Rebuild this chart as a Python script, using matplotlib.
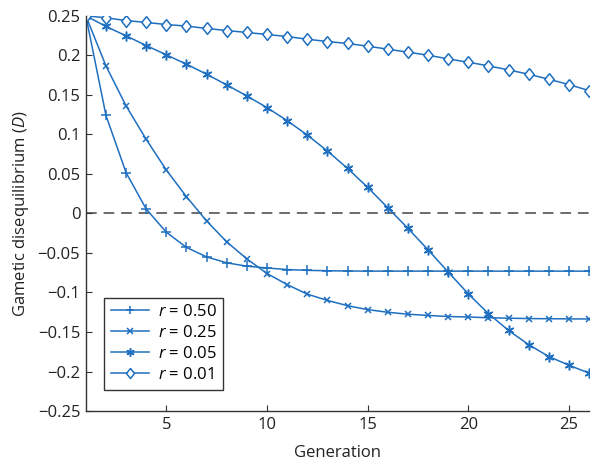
import matplotlib
matplotlib.use("Agg")
import matplotlib.pyplot as plt
import numpy as np

plt.rcParams['font.family'] = ['Open Sans', 'DejaVu Sans']
plt.rcParams['mathtext.fontset'] = 'custom'
plt.rcParams['mathtext.it'] = 'Open Sans:italic'
plt.rcParams['mathtext.rm'] = 'Open Sans'

# Данные
generations = list(range(1, 27))
d_r050 = [0.25, 0.124, 0.0515, 0.0055, -0.0238, -0.043, -0.055, -0.0625, -0.0667, -0.069,
          -0.071, -0.072, -0.0725, -0.0728, -0.073, -0.073, -0.073, -0.073, -0.073, -0.073,
          -0.073, -0.073, -0.073, -0.073, -0.073, -0.073]
d_r025 = [0.25, 0.1866, 0.136, 0.0937, 0.0549, 0.0211, -0.0095, -0.036, -0.0575, -0.076,
          -0.09, -0.1021, -0.11, -0.1167, -0.1217, -0.125, -0.1275, -0.129, -0.1304, -0.131,
          -0.132, -0.1325, -0.133, -0.1332, -0.1334, -0.1335]
d_r005 = [0.25, 0.2365, 0.2247, 0.2124, 0.2006, 0.1888, 0.1761, 0.1626, 0.1486, 0.1339,
          0.1174, 0.0992, 0.079, 0.057, 0.033, 0.0072, -0.0188, -0.046, -0.074, -0.1017,
          -0.1267, -0.148, -0.166, -0.181, -0.192, -0.202]
d_r001 = [0.25, 0.2475, 0.244, 0.2416, 0.239, 0.237, 0.234, 0.2314, 0.2289, 0.2264,
          0.2238, 0.2204, 0.2175, 0.215, 0.2116, 0.2078, 0.204, 0.2002, 0.1955, 0.1913,
          0.1867, 0.1816, 0.1761, 0.1698, 0.163, 0.1554]
labels = ['$r$ = 0.50', '$r$ = 0.25', '$r$ = 0.05', '$r$ = 0.01']
series = [d_r050, d_r025, d_r005, d_r001]

# маркеры как в MATLAB: плюс, крестик, звёздочка-астериск, ромб
diamond = [(0, 1), (0.8, 0), (0, -1), (-0.8, 0), (0, 1)]
markers = ['+', 'x', (6, 2, 0), diamond]
msizes = [7, 5, 7, 8.5]

blue = '#1f6fc0'
gray = '#333333'
fs = 12

fig = plt.figure(figsize=(5.92, 4.65), dpi=100)
ax = fig.add_axes([0.145, 0.116, 0.850, 0.850])

ax.axhline(0, color='#444444', linestyle=(0, (7, 4.5)), linewidth=1.1, zorder=1)

for d, m, ms, lab in zip(series, markers, msizes, labels):
    ax.plot(generations, d, color=blue, marker=m, markersize=ms, markeredgewidth=1.1,
            markerfacecolor='white' if m is diamond else blue,
            linewidth=1.1, label=lab, zorder=2)

ax.set_xlim(1, 26)
ax.set_ylim(-0.25, 0.25)
ax.set_xticks([5, 10, 15, 20, 25])
ax.set_yticks(np.arange(-0.25, 0.26, 0.05))
ax.set_yticklabels(['−0.25', '−0.2', '−0.15', '−0.1', '−0.05', '0',
                    '0.05', '0.1', '0.15', '0.2', '0.25'])

for s in ['top', 'right']:
    ax.spines[s].set_visible(False)
for s in ['left', 'bottom']:
    ax.spines[s].set_color(gray)
    ax.spines[s].set_linewidth(1.0)
ax.tick_params(direction='in', length=4, color=gray, labelsize=fs, labelcolor='#222222', pad=4)

ax.set_xlabel('Generation', fontsize=fs, color='#222222', labelpad=9)
ax.set_ylabel('Gametic disequilibrium ($D$)', fontsize=fs, color='#222222', labelpad=5)

leg = ax.legend(loc='lower left', bbox_to_anchor=(0.03, 0.045), fontsize=fs,
                fancybox=False, framealpha=1, edgecolor=gray, handlelength=2.3,
                borderpad=0.4, labelspacing=0.3, handletextpad=0.5, borderaxespad=0.2,
                markerscale=0.85)
leg.get_frame().set_linewidth(1.0)

fig.savefig('out.png', dpi=100)
